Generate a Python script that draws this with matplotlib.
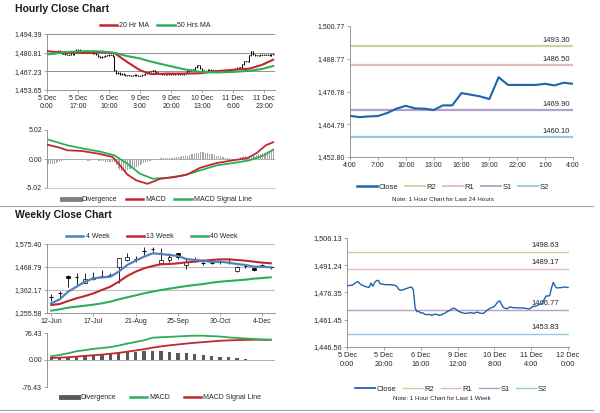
import matplotlib
matplotlib.use('Agg')
import matplotlib.pyplot as plt
from matplotlib.lines import Line2D
from matplotlib.patches import Rectangle
import numpy as np

plt.rcParams['font.family'] = ['Liberation Sans', 'DejaVu Sans']

# ---------------- data ----------------
# hourly closes, 5 Dec 0:00 onwards
hourly_close = [
    1480.06, 1480.15, 1480.25, 1480.43, 1481.16, 1481.88, 1482.25, 1481.16, 1480.43, 1480.06,
    1479.52, 1479.33, 1479.15, 1481.52, 1479.70, 1481.88, 1482.79, 1482.98, 1481.16, 1480.97,
    1480.79, 1480.61, 1480.61, 1480.61, 1480.61, 1480.43, 1480.25, 1479.70, 1478.24, 1477.51,
    1477.70, 1478.06, 1478.42, 1478.79, 1479.15, 1479.33, 1477.88, 1467.86, 1465.86, 1466.04,
    1465.13, 1465.31, 1464.58, 1464.22, 1464.40, 1464.22, 1463.86, 1464.22, 1464.58, 1464.22,
    1463.86, 1464.04, 1464.58, 1464.95, 1465.68, 1466.22, 1466.77, 1467.32, 1467.86, 1467.32,
    1466.41, 1465.86, 1465.50, 1465.13, 1464.95, 1464.95, 1465.13, 1465.31, 1465.13, 1464.95,
    1465.50, 1465.50, 1465.13, 1464.95, 1464.95, 1465.68, 1466.59, 1467.32, 1467.86, 1468.23,
    1468.77, 1470.05, 1471.50, 1471.69, 1469.50, 1468.04, 1467.68, 1467.50, 1468.23, 1468.41,
    1468.04, 1468.04, 1468.04, 1467.86, 1467.86, 1467.86, 1467.86, 1467.68, 1467.50, 1467.32,
    1468.04, 1468.77, 1468.77, 1469.14, 1469.68, 1470.05, 1470.23, 1472.42, 1474.42, 1474.42,
    1474.60, 1478.79, 1481.88, 1479.70, 1478.79, 1478.97, 1478.97, 1479.15, 1479.33, 1479.15,
    1479.15, 1479.40, 1479.00, 1479.80, 1479.60,
]
hourly_ticks = ["5 Dec\n0:00", "5 Dec\n17:00", "6 Dec\n10:00", "9 Dec\n3:00",
                "9 Dec\n20:00", "10 Dec\n13:00", "11 Dec\n6:00", "11 Dec\n23:00"]
hourly_tick_step = 17

ma_hour_idx = [0, 10, 20, 30, 37, 44, 51, 57, 66, 75, 84, 93, 102, 111, 118, 124]
ma20 = [1481.9, 1480.7, 1480.7, 1481.1, 1480.5, 1474.0, 1468.0, 1465.2, 1465.6, 1465.6,
        1465.8, 1467.4, 1468.3, 1469.2, 1472.0, 1475.7]
ma50 = [1479.5, 1481.2, 1481.9, 1481.7, 1480.7, 1478.3, 1476.6, 1474.3, 1471.5, 1468.8,
        1466.8, 1466.4, 1466.8, 1467.6, 1469.0, 1471.1]
hourly_yticks = [1453.65, 1467.23, 1480.81, 1494.39]

macd_h_idx = [0, 7, 11, 19, 28, 36, 40, 44, 49, 55, 59, 62, 70, 77, 84, 93, 102, 110, 115, 120, 124]
macd_h = [2.49, 1.97, 1.51, 1.39, 0.93, 0.35, -1.10, -2.67, -3.71, -4.29, -3.83, -3.42, -3.13,
          -2.67, -1.51, -0.70, -0.23, 0.17, 1.04, 2.38, 2.90]
sig_h_idx = [0, 11, 20, 29, 37, 44, 51, 58, 66, 75, 84, 93, 102, 111, 119, 124]
sig_h = [3.42, 2.38, 1.80, 1.28, 0.64, -0.81, -2.55, -3.42, -3.25, -2.84, -1.97, -1.10,
         -0.70, -0.23, 0.64, 1.62]
div_h = [
    -0.9, -0.9, -0.9, -0.85, -0.8, -0.7,
    -0.6, -0.45, -0.35, -0.25, -0.2,
    -0.15, -0.1, -0.1, -0.1, -0.15, -0.2, -0.2, -0.15, -0.1, -0.1, -0.15,
    -0.3, -0.35, -0.3, -0.25,
    -0.2, -0.2, -0.3, -0.35, -0.4, -0.4, -0.45, -0.5,
    -0.5, -0.55, -0.5, -0.6,
    -1.0, -1.5, -1.9, -2.1, -2.1, -2.0, -1.9,
    -1.8, -1.7, -1.6, -1.5, -1.3, -1.2, -1.0, -0.9, -0.7, -0.6, -0.5, -0.4, -0.3, -0.2, -0.1, 0.0,
    0.05, 0.1, 0.1, 0.15, 0.15, 0.2, 0.2, 0.25, 0.25, 0.3,
    0.3, 0.35, 0.4, 0.45, 0.5, 0.55, 0.6, 0.7, 0.8, 0.85, 0.95, 1.0, 1.1, 1.15,
    1.2, 1.2, 1.1, 1.0,
    0.9, 0.85, 0.8, 0.7, 0.6, 0.5, 0.45, 0.4, 0.3, 0.2, 0.15, 0.1,
    0.0, -0.05, -0.1, -0.05, 0.0,
    0.3, 0.4, 0.45, 0.45, 0.4,
    0.45, 0.5, 0.55, 0.6, 0.7, 0.8, 0.9, 1.0, 1.1, 1.2, 1.3, 1.4, 1.45, 1.5,
]
macd_h_yticks = [-5.02, 0.00, 5.02]

# last 24 hours
day_labels = ["4:00", "7:00", "10:00", "13:00", "16:00", "19:00", "22:00", "1:00", "4:00"]
day_close = [1467.9, 1467.4, 1467.65, 1467.8, 1468.9, 1470.5, 1471.55, 1470.6, 1470.5, 1470.0,
             1471.7, 1471.7, 1476.2, 1475.6, 1475.0, 1474.0, 1482.0, 1479.2, 1479.2, 1479.2,
             1479.2, 1479.6, 1479.0, 1480.0, 1479.6]
day_levels = {"R2": 1493.30, "R1": 1486.50, "S1": 1469.90, "S2": 1460.10}
day_yticks = [1452.80, 1464.79, 1476.78, 1488.77, 1500.77]

# weekly
week_labels = ["12-Jun", "17-Jul", "21-Aug", "25-Sep", "30-Oct", "4-Dec"]
w_open = [1328.2, 1346.7, 1428.6, 1424.0, 1396.2, 1411.6, 1428.6, 1431.7, 1470.3, 1501.2,
          1505.9, 1544.5, 1553.8, 1487.3, 1501.0, 1532.0, 1478.0, 1501.0, 1485.8, 1488.9,
          1490.4, 1492.0, 1452.0, 1473.4, 1462.0, 1476.5, 1467.2]
w_close = [1328.2, 1346.7, 1419.4, 1424.0, 1411.6, 1424.0, 1428.6, 1431.7, 1510.0, 1516.7,
           1505.9, 1544.5, 1553.8, 1502.8, 1513.0, 1513.0, 1493.0, 1501.0, 1485.8, 1488.9,
           1490.4, 1492.0, 1467.0, 1473.4, 1455.0, 1476.5, 1467.2]
w_high = [1342.0, 1359.0, 1431.7, 1439.0, 1439.0, 1447.0, 1455.0, 1442.0, 1510.0, 1532.0,
          1519.0, 1560.0, 1563.0, 1557.0, 1532.0, 1535.0, 1509.0, 1513.0, 1501.0, 1496.0,
          1501.0, 1509.0, 1473.0, 1478.0, 1467.0, 1482.0, 1473.0]
w_low = [1312.7, 1331.0, 1377.6, 1385.0, 1393.0, 1408.0, 1416.0, 1427.0, 1394.6, 1498.0,
         1493.0, 1524.0, 1540.0, 1487.0, 1493.0, 1504.0, 1458.0, 1493.0, 1478.0, 1482.0,
         1482.0, 1482.0, 1447.0, 1462.0, 1452.0, 1467.0, 1458.0]
ma4w = [1300.4, 1318.9, 1354.5, 1377.6, 1400.8, 1416.3, 1420.9, 1424.0, 1447.2, 1478.1,
        1498.1, 1516.7, 1532.1, 1529.0, 1524.4, 1519.8, 1505.9, 1501.2, 1498.1, 1492.0,
        1493.5, 1488.9, 1482.7, 1478.1, 1470.3, 1470.3, 1467.2]
ma13w = [1292.7, 1297.3, 1311.2, 1323.6, 1334.4, 1346.7, 1362.2, 1377.6, 1400.8, 1427.1,
         1447.2, 1462.6, 1473.4, 1481.2, 1482.7, 1485.8, 1490.4, 1493.5, 1498.1, 1501.2,
         1504.3, 1504.3, 1501.2, 1498.1, 1493.5, 1488.9, 1485.8]
ma40w = [1266.4, 1272.6, 1280.3, 1285.0, 1289.6, 1294.2, 1300.4, 1308.1, 1318.9, 1328.2,
         1337.5, 1346.7, 1354.5, 1362.2, 1368.4, 1374.6, 1380.7, 1385.4, 1390.0, 1396.2,
         1400.8, 1403.9, 1407.0, 1410.1, 1414.7, 1417.8, 1420.9]
week_yticks = [1255.58, 1362.17, 1468.79, 1575.40]

macd_w = [10.5, 14.3, 19.0, 24.8, 28.0, 31.5, 34.0, 36.5, 41.0, 46.5, 51.0, 56.0, 63.0, 64.5,
          65.5, 66.8, 68.0, 68.8, 68.8, 67.5, 66.5, 64.0, 62.5, 61.0, 59.5, 58.0, 57.3]
sig_w = [5.7, 6.7, 7.8, 9.6, 11.7, 13.5, 15.3, 17.7, 20.2, 23.5, 27.0, 30.5, 35.0, 38.5, 41.5,
         44.0, 46.5, 48.7, 50.6, 52.5, 54.4, 55.5, 56.3, 56.8, 57.3, 57.3, 57.3]
div_w = [7.6, 8.6, 9.5, 10.5, 11.5, 13.4, 15.3, 17.2, 20.1, 22.0, 23.9, 24.8, 26.7, 24.8,
         22.9, 21.0, 19.1, 17.2, 14.3, 11.5, 9.5, 7.6, 4.8, 1.9, 1.0, 1.0, 0.3]
macd_w_yticks = [-76.43, 0.00, 76.43]

# last week hourly
week_h_labels = ["5 Dec\n0:00", "5 Dec\n20:00", "6 Dec\n16:00", "9 Dec\n12:00",
                 "10 Dec\n8:00", "11 Dec\n4:00", "12 Dec\n0:00"]
week_h_step = 20
week_levels = {"R2": 1498.63, "R1": 1489.17, "S1": 1466.77, "S2": 1453.83}
week_h_yticks = [1446.56, 1461.45, 1476.35, 1491.24, 1506.13]

# ---------------- styling ----------------
RED = '#C0282D'
GREEN = '#2EAD5B'
BLUE4 = '#4F81BD'
CLOSE = '#1F63A8'
LVL = {"R2": '#C4D79B', "R1": '#E6B9B8', "S1": '#B3A2C7', "S2": '#93CDDD'}
GRAY = '#868686'
TXT = '#262626'

W, H = 600, 413
fig = plt.figure(figsize=(6, 4.13), dpi=100)
fig.patch.set_facecolor('white')


def add_ax(x0, y0, x1, y1):
    return fig.add_axes([x0 / W, 1 - y1 / H, (x1 - x0) / W, (y1 - y0) / H])


def style(ax, fs=5, bottom=True):
    for s in ['top', 'right']:
        ax.spines[s].set_visible(False)
    for s in ['left', 'bottom']:
        ax.spines[s].set_color(GRAY)
        ax.spines[s].set_linewidth(0.6)
    ax.spines['bottom'].set_visible(bottom)
    ax.tick_params(axis='both', labelsize=fs, length=2, width=0.5, color=GRAY,
                   pad=1.5, labelcolor=TXT)
    ax.set_facecolor('none')


def fmt(v):
    return "{:,.2f}".format(v)


def legend_at(handles, labels, cx, cy, fs=5, hl=2.5, cs=1.2, tp=0.3):
    fig.legend(handles, labels, loc='center', bbox_to_anchor=(cx / W, 1 - cy / H),
               bbox_transform=fig.transFigure, ncol=len(labels), frameon=False,
               fontsize=fs, handlelength=hl, handletextpad=tp, columnspacing=cs,
               borderpad=0, borderaxespad=0, labelcolor=TXT)


def sep(y):
    fig.add_artist(Line2D([0, 593 / W], [1 - y / H] * 2, color='#A6A6A6', lw=0.8,
                          transform=fig.transFigure))


# titles
fig.text(15 / W, 1 - 9.5 / H, "Hourly Close Chart", fontsize=7.5, fontweight='bold',
         va='center', ha='left', color='#1a1a1a')
fig.text(15 / W, 1 - 214.5 / H, "Weekly Close Chart", fontsize=7.5, fontweight='bold',
         va='center', ha='left', color='#1a1a1a')
sep(206)
sep(410)

# ---- hourly close chart ----
ax1 = add_ax(47, 34, 275, 90)
style(ax1)
n = len(hourly_close)
xh = np.arange(n)
c = np.array(hourly_close)
o = np.concatenate([[c[0]], c[:-1]])
for v in hourly_yticks[1:]:
    ax1.axhline(v, color='#808080', lw=0.6, zorder=0)
ax1.vlines(xh, np.minimum(o, c) - 0.35, np.maximum(o, c) + 0.35, color='black', lw=0.7, zorder=2)
ax1.hlines(c, xh, xh + 0.45, color='black', lw=0.6, zorder=2)
ax1.plot(ma_hour_idx, ma20, color=RED, lw=1.5, zorder=3)
ax1.plot(ma_hour_idx, ma50, color=GREEN, lw=1.5, zorder=3)
ax1.set_xlim(0, 125)
ax1.set_ylim(hourly_yticks[0], hourly_yticks[-1])
ax1.set_yticks(hourly_yticks)
ax1.set_yticklabels([fmt(v) for v in hourly_yticks])
ax1.set_xticks(np.arange(len(hourly_ticks)) * hourly_tick_step)
ax1.set_xticklabels(hourly_ticks, linespacing=1.3)
legend_at([Line2D([], [], color=RED, lw=1.8), Line2D([], [], color=GREEN, lw=1.8)],
          ["20 Hr MA", "50 Hrs MA"], 155, 25.5)

ax2 = add_ax(47, 130, 275, 188)
style(ax2)
ax2.spines['bottom'].set_color('#BFBFBF')
ax2.bar(np.arange(len(div_h)), div_h, width=0.55, color='#A6A6A6', zorder=1)
ax2.axhline(0, color='#A0A0A0', lw=0.6, zorder=0)
ax2.plot(macd_h_idx, macd_h, color=RED, lw=1.3, zorder=3)
ax2.plot(sig_h_idx, sig_h, color=GREEN, lw=1.3, zorder=2)
ax2.set_xlim(0, 125)
ax2.set_ylim(macd_h_yticks[0], macd_h_yticks[-1])
ax2.set_yticks(macd_h_yticks)
ax2.set_yticklabels(["{:.2f}".format(v) for v in macd_h_yticks])
ax2.set_xticks([])
legend_at([Line2D([], [], color='#808080', lw=3.5), Line2D([], [], color=RED, lw=1.8),
           Line2D([], [], color=GREEN, lw=1.8)],
          ["Divergence", "MACD", "MACD Signal Line"], 157, 199.5)

# ---- 24 hour chart ----
ax3 = add_ax(350, 26, 573, 157)
style(ax3)
for k in ["R2", "R1", "S1", "S2"]:
    ax3.axhline(day_levels[k], color=LVL[k], lw=1.6, zorder=1)
    ax3.annotate("{:.2f}".format(day_levels[k]), xy=(0.925, day_levels[k]),
                 xycoords=('axes fraction', 'data'), xytext=(0, 1.5),
                 textcoords='offset points', ha='center', va='bottom', fontsize=5.5, color=TXT)
ax3.plot(np.arange(len(day_close)), day_close, color=CLOSE, lw=1.5, zorder=3)
ax3.set_xlim(0, len(day_close) - 1)
ax3.set_ylim(day_yticks[0], day_yticks[-1])
ax3.set_yticks(day_yticks)
ax3.set_yticklabels([fmt(v) for v in day_yticks])
ax3.set_xticks(np.arange(len(day_labels)) * 3)
ax3.set_xticklabels(day_labels)
legend_at([Line2D([], [], color=CLOSE, lw=1.8)] +
          [Line2D([], [], color=LVL[k], lw=1.3) for k in ["R2", "R1", "S1", "S2"]],
          ["Close", "R2", "R1", "S1", "S2"], 453, 187, fs=5.5, hl=2.6, cs=0.9, tp=0.2)
fig.text(443 / W, 1 - 200 / H, "Note: 1 Hour Chart for Last 24 Hours", fontsize=4.5,
         ha='center', va='center', color=TXT)

# ---- weekly chart ----
ax4 = add_ax(47, 244, 275, 313)
style(ax4)
for v in week_yticks[1:]:
    ax4.axhline(v, color='#BFBFBF', lw=0.8, zorder=0)
nw = len(w_close)
xw = np.arange(nw)
ax4.vlines(xw, w_low, w_high, color='black', lw=0.6, zorder=2)
for i in range(nw):
    lo, hi = min(w_open[i], w_close[i]), max(w_open[i], w_close[i])
    if hi - lo < 2:
        ax4.hlines(w_close[i], i - 0.22, i + 0.22, color='black', lw=0.8, zorder=3)
    else:
        fc = 'white' if w_close[i] > w_open[i] else 'black'
        ax4.add_patch(Rectangle((i - 0.22, lo), 0.44, hi - lo, facecolor=fc,
                                edgecolor='black', lw=0.5, zorder=3))
ax4.plot(xw, ma40w, color=GREEN, lw=1.5, zorder=4)
ax4.plot(xw, ma13w, color=RED, lw=1.5, zorder=4)
ax4.plot(xw, ma4w, color=BLUE4, lw=1.6, zorder=5)
ax4.set_xlim(-0.5, nw - 0.5)
ax4.set_ylim(week_yticks[0], week_yticks[-1])
ax4.set_yticks(week_yticks)
ax4.set_yticklabels([fmt(v) for v in week_yticks])
ax4.set_xticks(np.arange(len(week_labels)) * 5)
ax4.set_xticklabels(week_labels)
legend_at([Line2D([], [], color=BLUE4, lw=1.8), Line2D([], [], color=RED, lw=1.8),
           Line2D([], [], color=GREEN, lw=1.8)],
          ["4 Week", "13 Week", "40 Week"], 152, 236.5, cs=2.5)

ax5 = add_ax(47, 333, 275, 387)
style(ax5, bottom=False)
ax5.bar(xw, div_w, width=0.4, color='#595959', zorder=1)
ax5.axhline(0, color='#A0A0A0', lw=0.6, zorder=0)
ax5.plot(xw, sig_w, color=RED, lw=1.3, zorder=3)
ax5.plot(xw, macd_w, color=GREEN, lw=1.3, zorder=3)
ax5.set_xlim(-0.5, nw - 0.5)
ax5.set_ylim(macd_w_yticks[0], macd_w_yticks[-1])
ax5.set_yticks(macd_w_yticks)
ax5.set_yticklabels(["{:.2f}".format(v) for v in macd_w_yticks])
ax5.set_xticks([])
legend_at([Line2D([], [], color='#595959', lw=3.5), Line2D([], [], color=GREEN, lw=1.8),
           Line2D([], [], color=RED, lw=1.8)],
          ["Divergence", "MACD", "MACD Signal Line"], 161, 397.5, cs=2.0)

# ---- last week hourly chart ----
ax6 = add_ax(347, 238, 569, 347)
style(ax6, fs=5.3)
for k in ["R2", "R1", "S1", "S2"]:
    ax6.axhline(week_levels[k], color=LVL[k], lw=1.0, zorder=1)
    ax6.annotate("{:.2f}".format(week_levels[k]), xy=(0.895, week_levels[k]),
                 xycoords=('axes fraction', 'data'), xytext=(0, 2.0),
                 textcoords='offset points', ha='center', va='bottom', fontsize=5.5, color=TXT)
nwh = week_h_step * (len(week_h_labels) - 1) + 1
ax6.plot(np.arange(nwh), hourly_close[:nwh], color=CLOSE, lw=1.0, zorder=3)
ax6.set_xlim(0, nwh - 0.5)
ax6.set_ylim(week_h_yticks[0], week_h_yticks[-1])
ax6.set_yticks(week_h_yticks)
ax6.set_yticklabels([fmt(v) for v in week_h_yticks])
ax6.set_xticks(np.arange(len(week_h_labels)) * week_h_step)
ax6.set_xticklabels(week_h_labels, linespacing=1.4)
legend_at([Line2D([], [], color=CLOSE, lw=1.3)] +
          [Line2D([], [], color=LVL[k], lw=1.0) for k in ["R2", "R1", "S1", "S2"]],
          ["Close", "R2", "R1", "S1", "S2"], 451, 389, fs=5.5, hl=2.6, cs=0.9, tp=0.2)
fig.text(442 / W, 1 - 398 / H, "Note: 1 Hour Chart for Last 1 Week", fontsize=4.5,
         ha='center', va='center', color=TXT)

fig.savefig('out.png', dpi=100, facecolor='white')
